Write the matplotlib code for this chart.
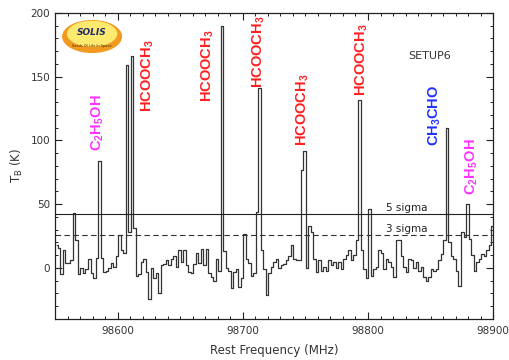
import numpy as np
import matplotlib
matplotlib.use('Agg')
import matplotlib.pyplot as plt
from matplotlib.patches import Ellipse
from matplotlib.ticker import MultipleLocator

plt.rcParams['mathtext.fontset'] = 'custom'
plt.rcParams['mathtext.rm'] = 'Liberation Sans:bold'
plt.rcParams['mathtext.sf'] = 'DejaVu Sans'

# spectrum: 2 MHz channels
start_freq = 98551.3
chan_width = 2.0
tb = [18, 16, -5, 14, 4, 4, 6, 43, 22, -5,
      0, -4, -1, 7, -4, -8, 8, 84, 8, -3,
      -2, 0, 4, 1, 9, 26, 14, 12, 159, 28,
      166, 31, -6, -5, 5, 7, -3, -24, 0, -8,
      -4, -20, 2, 3, 6, 2, 7, 9, 1, 14,
      5, 14, 2, -3, -4, 3, 12, 4, 15, 2,
      15, -4, -7, -10, 7, -2, 190, 13, 0, -2,
      -16, -3, -1, -15, -8, 27, 7, 4, -6, -4,
      44, 141, 14, -1, -21, -4, 1, 5, 7, 0,
      2, 3, 6, 9, 18, 7, 6, 6, 77, 92,
      0, 33, 28, 7, -3, 6, -2, 1, -2, 6,
      2, 5, 0, 5, -1, 7, 10, 14, 6, 10,
      22, 132, 14, -1, -8, 46, -6, -1, 1, 14,
      12, -1, 7, 5, 1, -7, 22, 22, 9, 1,
      -3, 7, 6, 0, 5, -2, 1, -7, -10, -7,
      -1, -2, -1, 6, 11, 22, 110, 20, 9, 7,
      -2, -14, 28, 24, 50, 23, 10, -2, 5, 7,
      11, 9, 14, 18, 33]
freq = start_freq + chan_width*np.arange(len(tb))

sigma5 = 42.5
sigma3 = 25.5

# line identifications
line_names = ['C$_2$H$_5$OH', 'HCOOCH$_3$', 'HCOOCH$_3$', 'HCOOCH$_3$',
              'HCOOCH$_3$', 'HCOOCH$_3$', 'CH$_3$CHO', 'C$_2$H$_5$OH']
line_freqs = [98584.4, 98623.6, 98672.0, 98712.4, 98748.0, 98794.8, 98853.2, 98882.8]
line_ypos = [92, 122, 130, 141, 96, 135, 96, 57]
line_cols = ['#FF33FF', '#FF2020', '#FF2020', '#FF2020', '#FF2020', '#FF2020', '#2233FF', '#FF33FF']

f = plt.figure(figsize=(5.1,3.6), dpi=100)
ax = f.add_axes([0.108, 0.114, 0.859, 0.85])

ax.step(freq, tb, where='mid', color='#333333', lw=0.9)
ax.axhline(sigma5, color='#222222', lw=0.8)
ax.axhline(sigma3, color='#333333', lw=0.8, ls=(0,(5,3)))
ax.text(98814, sigma5+0.5, '5 sigma', fontsize=7.5, color='#222222', va='bottom')
ax.text(98814, sigma3+0.8, '3 sigma', fontsize=7.5, color='#222222', va='bottom')

for name, x, y, c in zip(line_names, line_freqs, line_ypos, line_cols):
  ax.text(x, y, name, rotation=90, ha='center', va='bottom', color=c,
          fontsize=10.5, fontweight='bold', family='Liberation Sans')

ax.text(0.855, 0.86, 'SETUP6', transform=ax.transAxes, ha='center', va='center',
        fontsize=8, color='#333333')

# SOLIS logo
ax.add_patch(Ellipse((0.0845, 0.923), 0.137, 0.108, transform=ax.transAxes,
                     facecolor='#F29A1F', edgecolor='none'))
ax.add_patch(Ellipse((0.0845, 0.932), 0.115, 0.085, transform=ax.transAxes,
                     facecolor='#FFEA70', edgecolor='none'))
ax.text(0.0845, 0.937, 'SOLIS', transform=ax.transAxes, ha='center', va='center',
        fontsize=6.5, fontweight='bold', style='italic', color='#1E2A6E')
ax.text(0.0845, 0.893, 'Seeds Of Life In Space', transform=ax.transAxes, ha='center',
        va='center', fontsize=2.5, color='#3A2A10')

ax.set_xlim(98550, 98900)
ax.set_ylim(-40, 200)
ax.xaxis.set_major_locator(MultipleLocator(100))
ax.xaxis.set_minor_locator(MultipleLocator(10))
ax.yaxis.set_major_locator(MultipleLocator(50))
ax.yaxis.set_minor_locator(MultipleLocator(10))
ax.tick_params(which='both', direction='in', top=True, right=True, labelsize=7.5,
               colors='#222222', labelcolor='#333333')
ax.tick_params(which='major', length=5, width=0.8)
ax.tick_params(which='minor', length=2.5, width=0.7)
ax.tick_params(axis='x', pad=5)
for s in ['top','bottom','left','right']:
  ax.spines[s].set_linewidth(0.9)
  ax.spines[s].set_color('#222222')

ax.set_xlabel('Rest Frequency (MHz)', fontsize=8.5, color='#333333', labelpad=6)
ax.set_ylabel(r'T$_\mathsf{B}$ (K)', fontsize=8.5, color='#333333', labelpad=4)

f.savefig('out.png', dpi=100)
